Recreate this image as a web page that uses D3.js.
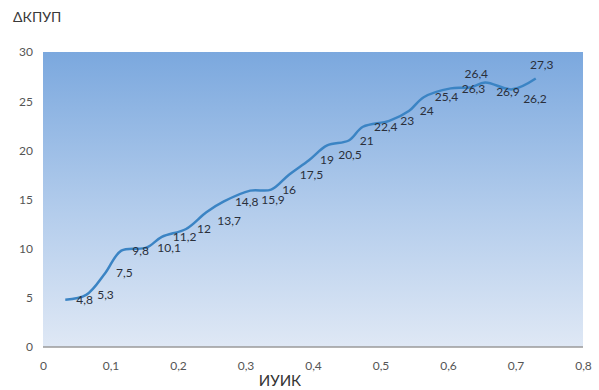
<!DOCTYPE html>
<html>
<head>
<meta charset="utf-8">
<script src="https://cdn.jsdelivr.net/npm/d3@7"></script>
<style>
  body { margin: 0; background: #fff; }
  text { font-family: Lato, "Open Sans", sans-serif; }
</style>
</head>
<body>
<svg id="chart"></svg>
<script>
// values
var iuik = [0.033, 0.064, 0.092, 0.116, 0.153, 0.176, 0.212, 0.242, 0.268, 0.307, 0.338, 0.364,
            0.394, 0.421, 0.453, 0.474, 0.513, 0.542, 0.564, 0.604, 0.633, 0.655, 0.695, 0.73];
var dkpup = [4.8, 5.3, 7.5, 9.8, 10.1, 11.2, 12, 13.7, 14.8, 15.9, 16, 17.5,
             19, 20.5, 21, 22.4, 23, 24, 25.4, 26.3, 26.4, 26.9, 26.2, 27.3];
// where each data label sits relative to its point
var labelPlace = ["r","r","r","r","r","r","r","b","r","b","r","r",
                  "r","b","r","r","r","r","r","r","a","b","b","a"];
var xTicks = [0, 0.1, 0.2, 0.3, 0.4, 0.5, 0.6, 0.7, 0.8];
var yTicks = [0, 5, 10, 15, 20, 25, 30];

var width = 599, height = 390;
var margin = {top: 52, right: 16, bottom: 43, left: 43};

var loc = d3.formatLocale({decimal: ",", thousands: " ", grouping: [3], currency: ["", ""]});
var fmt = loc.format("~g");

var svg = d3.select("#chart").attr("width", width).attr("height", height);

var x = d3.scaleLinear().domain([0, 0.8]).range([margin.left, width - margin.right]);
var y = d3.scaleLinear().domain([0, 30]).range([height - margin.bottom, margin.top]);

var defs = svg.append("defs");
var grad = defs.append("linearGradient")
    .attr("id", "bg").attr("x1", 0).attr("y1", 0).attr("x2", 0).attr("y2", 1);
grad.append("stop").attr("offset", "0%").attr("stop-color", "#7ba8de");
grad.append("stop").attr("offset", "55%").attr("stop-color", "#b4cdec");
grad.append("stop").attr("offset", "100%").attr("stop-color", "#dfe8f5");

// plot area
svg.append("rect")
    .attr("x", x(0)).attr("y", y(30))
    .attr("width", x(0.8) - x(0)).attr("height", y(0) - y(30))
    .attr("fill", "url(#bg)");

svg.append("line")
    .attr("x1", x(0)).attr("x2", x(0.8))
    .attr("y1", y(0)).attr("y2", y(0))
    .attr("stroke", "#9a9a9a").attr("stroke-width", 1.5);

// axes (labels only)
var xAxis = svg.append("g")
    .attr("transform", "translate(0," + y(0) + ")")
    .call(d3.axisBottom(x).tickValues(xTicks).tickFormat(fmt).tickSize(0).tickPadding(14));
xAxis.select(".domain").remove();
xAxis.selectAll("text").attr("fill", "#555").style("font-size", "12px");

var yAxis = svg.append("g")
    .attr("transform", "translate(" + (margin.left - 10) + ",0)")
    .call(d3.axisLeft(y).tickValues(yTicks).tickFormat(fmt).tickSize(0).tickPadding(0));
yAxis.select(".domain").remove();
yAxis.selectAll("text").attr("fill", "#555").style("font-size", "12px");

// titles
svg.append("text")
    .attr("x", 13).attr("y", 22)
    .attr("fill", "#3a3a3a").style("font-size", "14px")
    .text("ΔКПУП");

svg.append("text")
    .attr("x", 280).attr("y", 386)
    .attr("text-anchor", "middle")
    .attr("fill", "#333").style("font-size", "15px")
    .text("ИУИК");

// line
var pts = iuik.map(function(d, i) { return [d, dkpup[i]]; });
var line = d3.line()
    .x(function(d) { return x(d[0]); })
    .y(function(d) { return y(d[1]); })
    .curve(d3.curveCatmullRom.alpha(0.5));

svg.append("path")
    .datum(pts)
    .attr("d", line)
    .attr("fill", "none")
    .attr("stroke", "#3b84c4")
    .attr("stroke-width", 2.5);

// data labels
svg.selectAll(".lbl")
    .data(pts)
    .enter().append("text")
    .attr("class", "lbl")
    .attr("x", function(d, i) { return labelPlace[i] == "a" ? x(d[0]) + 6 : x(d[0]) + 11; })
    .attr("y", function(d, i) {
        var p = labelPlace[i];
        return y(d[1]) + (p == "b" ? 9 : p == "a" ? -14 : 0);
    })
    .attr("dy", "0.35em")
    .attr("text-anchor", function(d, i) { return labelPlace[i] == "a" ? "middle" : "start"; })
    .attr("fill", "#2a2f3a")
    .style("font-size", "12px")
    .text(function(d) { return fmt(d[1]); });
</script>
</body>
</html>
